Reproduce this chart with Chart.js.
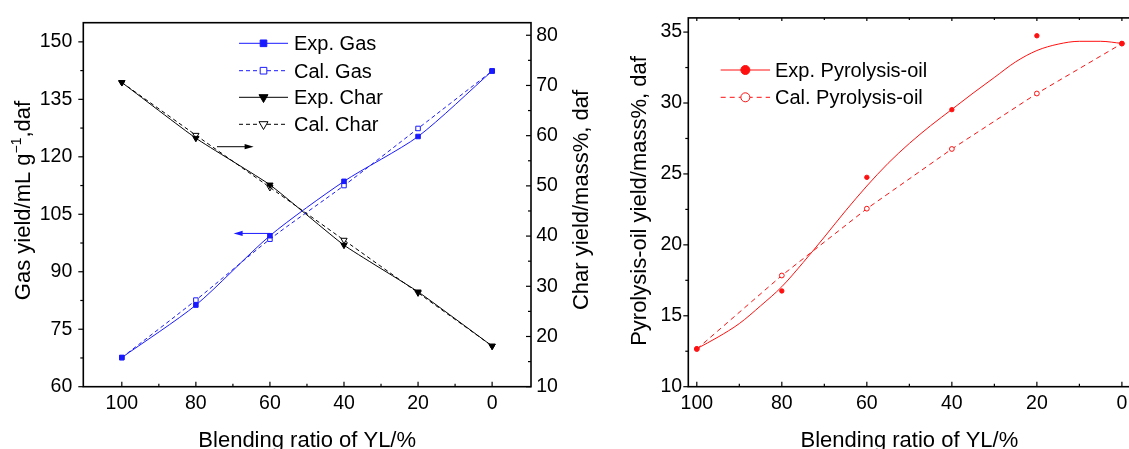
<!DOCTYPE html>
<html>
<head>
<meta charset="utf-8">
<script src="https://cdn.jsdelivr.net/npm/chart.js@4.4.1/dist/chart.umd.min.js"></script>
<style>
  html, body { margin: 0; padding: 0; background: #fff; overflow: hidden; width: 1129px; height: 449px; }
  canvas { position: absolute; top: 0; }
  #gasChar { left: 0; width: 600px; height: 449px; }
  #oil { left: 600px; width: 540px; height: 449px; }
</style>
</head>
<body>
<canvas id="gasChar" width="600" height="449"></canvas>
<canvas id="oil" width="540" height="449"></canvas>
<script>
// Blending ratio of YL (%) for every measured sample
const BLEND = [100, 80, 60, 40, 20, 0];

// Gas yield, mL/g daf
const GAS_EXP = [67.6, 81.3, 99.4, 113.6, 125.3, 142.4];
const GAS_CAL = [67.6, 82.6, 98.5, 112.5, 127.4, 142.4];

// Char yield, mass% daf
const CHAR_EXP = [70.6, 59.5, 50.2, 38.2, 28.9, 18.1];
const CHAR_CAL = [70.6, 60.1, 49.7, 39.2, 28.7, 18.1];

// Pyrolysis-oil yield, mass% daf
const OIL_EXP = [12.68, 16.75, 24.76, 29.53, 34.74, 34.19];
const OIL_CAL = [12.65, 17.84, 22.55, 26.76, 30.67, 34.19];

// Smoothed trend through the experimental oil yields
const OIL_FIT_X = [100, 95, 90, 85, 80, 75, 70, 65, 60, 55, 50, 45, 40, 35, 30, 25, 20, 15, 10, 5, 0];
const OIL_FIT_Y = [12.68, 13.5, 14.45, 15.7, 17.05, 18.75, 20.55, 22.4, 24.15, 25.75, 27.15, 28.4, 29.55, 30.7, 31.8, 32.9, 33.7, 34.15, 34.35, 34.35, 34.2];

// Axis ticks
const X_MAJOR = [0, 20, 40, 60, 80, 100];
const X_MINOR = [10, 30, 50, 70, 90];
const GAS_MAJOR = [60, 75, 90, 105, 120, 135, 150];
const GAS_MINOR = [67.5, 82.5, 97.5, 112.5, 127.5, 142.5];
const CHAR_MAJOR = [10, 20, 30, 40, 50, 60, 70, 80];
const CHAR_MINOR = [15, 25, 35, 45, 55, 65, 75];
const OIL_MAJOR = [10, 15, 20, 25, 30, 35];
const OIL_MINOR = [12.5, 17.5, 22.5, 27.5, 32.5];

const FONT = '"Liberation Sans", Arial, Helvetica, sans-serif';
const TICK_SIZE = 19.5;
const BLUE = '#1a1aff';
const RED = '#ff1010';
const BLACK = '#000000';

Chart.defaults.font.family = FONT;
Chart.defaults.color = '#000';

const pts = (xs, ys) => xs.map((x, i) => ({ x, y: ys[i] }));
const setTicks = vals => scale => { scale.ticks = vals.map(v => ({ value: v })); };

// Frame, inward/outward tick marks, rich-text axis titles, legend and arrows
function makeDecor(cfg) {
  return {
    id: 'decor',
    afterDraw(chart) {
      const ctx = chart.ctx, a = chart.chartArea;
      ctx.save();
      ctx.setLineDash([]);

      // tick marks
      cfg.ticks.forEach(t => {
        const s = chart.scales[t.scale];
        ctx.strokeStyle = '#000';
        ctx.lineWidth = 1.2;
        const mark = (vals, len) => vals.forEach(v => {
          const p = s.getPixelForValue(v);
          ctx.beginPath();
          if (t.edge === 'bottom') {
            ctx.moveTo(p, a.bottom); ctx.lineTo(p, a.bottom + (t.dir === 'in' ? -len : len));
          } else if (t.edge === 'top') {
            ctx.moveTo(p, a.top); ctx.lineTo(p, a.top + (t.dir === 'in' ? len : -len));
          } else if (t.edge === 'left') {
            ctx.moveTo(a.left, p); ctx.lineTo(a.left + (t.dir === 'in' ? len : -len), p);
          } else {
            ctx.moveTo(a.right, p); ctx.lineTo(a.right + (t.dir === 'in' ? -len : len), p);
          }
          ctx.stroke();
        });
        mark(t.major, t.len);
        mark(t.minor || [], t.minorLen);
      });

      // plot frame
      ctx.strokeStyle = '#000';
      ctx.lineWidth = 1.6;
      ctx.strokeRect(a.left, a.top, a.right - a.left, a.bottom - a.top);

      // arrows pointing to the axis a series belongs to
      (cfg.arrows || []).forEach(ar => {
        const xs = chart.scales.x, ys = chart.scales[ar.yAxis];
        const x0 = xs.getPixelForValue(ar.from), x1 = xs.getPixelForValue(ar.to), y = ys.getPixelForValue(ar.y);
        const dir = Math.sign(x1 - x0);
        ctx.strokeStyle = ar.color; ctx.fillStyle = ar.color; ctx.lineWidth = 1;
        ctx.beginPath(); ctx.moveTo(x0, y); ctx.lineTo(x1 - dir * 6, y); ctx.stroke();
        ctx.beginPath(); ctx.moveTo(x1, y); ctx.lineTo(x1 - dir * 9, y - 2.6); ctx.lineTo(x1 - dir * 9, y + 2.6);
        ctx.closePath(); ctx.fill();
      });

      // legend
      const L = cfg.legend;
      L.rows.forEach(r => {
        const dl = chart.data.datasets[r.line], dm = chart.data.datasets[r.marker];
        ctx.save();
        ctx.strokeStyle = dl.borderColor; ctx.lineWidth = dl.borderWidth || 1;
        ctx.setLineDash(dl.borderDash || []);
        ctx.beginPath(); ctx.moveTo(L.x0, r.y); ctx.lineTo(L.x1, r.y); ctx.stroke();
        ctx.restore();
        ctx.fillStyle = dm.pointBackgroundColor;
        ctx.strokeStyle = dm.pointBorderColor || dm.borderColor;
        ctx.lineWidth = 1;
        Chart.helpers.drawPoint(ctx, {
          pointStyle: dm.pointStyle, rotation: dm.pointRotation || 0, radius: r.r, borderWidth: 1
        }, (L.x0 + L.x1) / 2, r.y);
        ctx.fillStyle = '#000';
        ctx.font = L.size + 'px ' + FONT;
        ctx.textAlign = 'left'; ctx.textBaseline = 'alphabetic';
        ctx.fillText(dm.label, L.tx, r.y + 0.358 * L.size);
      });

      // axis titles (with superscripts where needed)
      cfg.titles.forEach(tt => {
        const size = tt.size, supSize = Math.round(size * 0.64);
        const fontOf = p => (p.sup ? supSize : size) + 'px ' + FONT;
        let total = 0;
        tt.parts.forEach(p => { ctx.font = fontOf(p); total += ctx.measureText(p.t).width; });
        ctx.save();
        ctx.translate(tt.x, tt.y);
        if (tt.rotate) ctx.rotate(tt.rotate * Math.PI / 180);
        ctx.fillStyle = '#000'; ctx.textAlign = 'left'; ctx.textBaseline = 'alphabetic';
        let cx = -total / 2;
        tt.parts.forEach(p => {
          ctx.font = fontOf(p);
          ctx.fillText(p.t, cx, p.sup ? -size * 0.4 : 0);
          cx += ctx.measureText(p.t).width;
        });
        ctx.restore();
      });

      ctx.restore();
    }
  };
}

const baseAxis = (min, max, ticks, padding) => ({
  type: 'linear', min, max,
  afterBuildTicks: setTicks(ticks),
  grid: { display: false, drawTicks: false },
  border: { display: false },
  ticks: { font: { size: TICK_SIZE }, padding, autoSkip: false, maxRotation: 0, color: '#000' }
});

// ---- Gas and char yields ----
const gasX = Object.assign(baseAxis(-10.5, 110.4, X_MAJOR, 5.5), { reverse: true, afterFit: s => { s.height = 62.3; } });
const gasY = Object.assign(baseAxis(60, 155, GAS_MAJOR, 11), { position: 'left', afterFit: s => { s.width = 83.3; } });
const charY = Object.assign(baseAxis(10, 82.5, CHAR_MAJOR, 5.2), { position: 'right', afterFit: s => { s.width = 69; } });

new Chart(document.getElementById('gasChar'), {
  type: 'line',
  data: {
    datasets: [
      { label: 'Exp. Gas', data: pts(BLEND, GAS_EXP), yAxisID: 'yGas', borderColor: BLUE, borderWidth: 1,
        pointStyle: 'rect', pointRadius: 3.2, pointBorderWidth: 1, pointBorderColor: BLUE, pointBackgroundColor: BLUE,
        tension: 0.25 },
      { label: 'Cal. Gas', data: pts(BLEND, GAS_CAL), yAxisID: 'yGas', borderColor: BLUE, borderWidth: 1, borderDash: [4, 3],
        pointStyle: 'rect', pointRadius: 3.2, pointBorderWidth: 1, pointBorderColor: BLUE, pointBackgroundColor: '#fff',
        tension: 0.25 },
      { label: 'Exp. Char', data: pts(BLEND, CHAR_EXP), yAxisID: 'yChar', borderColor: BLACK, borderWidth: 1,
        pointStyle: 'triangle', pointRotation: 180, pointRadius: 3.6, pointBorderWidth: 1, pointBorderColor: BLACK,
        pointBackgroundColor: BLACK, tension: 0.15 },
      { label: 'Cal. Char', data: pts(BLEND, CHAR_CAL), yAxisID: 'yChar', borderColor: BLACK, borderWidth: 1, borderDash: [4, 3],
        pointStyle: 'triangle', pointRotation: 180, pointRadius: 3.6, pointBorderWidth: 1, pointBorderColor: BLACK,
        pointBackgroundColor: '#fff', tension: 0.15 }
    ]
  },
  options: {
    responsive: false, animation: false, devicePixelRatio: 1,
    layout: { padding: { top: 14.3, left: 0, right: 0, bottom: 0 } },
    plugins: { legend: { display: false }, tooltip: { enabled: false } },
    scales: { x: gasX, yGas: gasY, yChar: charY }
  },
  plugins: [makeDecor({
    ticks: [
      { scale: 'x', edge: 'bottom', dir: 'in', major: X_MAJOR, minor: X_MINOR, len: 5, minorLen: 3 },
      { scale: 'yGas', edge: 'left', dir: 'out', major: GAS_MAJOR, minor: GAS_MINOR, len: 5, minorLen: 3 },
      { scale: 'yChar', edge: 'right', dir: 'in', major: CHAR_MAJOR, minor: CHAR_MINOR, len: 5, minorLen: 3 }
    ],
    arrows: [
      { yAxis: 'yChar', from: 74.3, to: 64.4, y: 57.8, color: BLACK },
      { yAxis: 'yGas', from: 60, to: 69.8, y: 100.0, color: BLUE }
    ],
    legend: {
      x0: 239, x1: 288, tx: 294, size: 20,
      rows: [
        { line: 0, marker: 0, y: 43.3, r: 4.7 },
        { line: 1, marker: 1, y: 70.7, r: 4.7 },
        { line: 2, marker: 2, y: 97.3, r: 5.2 },
        { line: 3, marker: 3, y: 124.3, r: 5.2 }
      ]
    },
    titles: [
      { parts: [{ t: 'Blending ratio of YL/%' }], x: 307.2, y: 446.5, size: 22 },
      { parts: [{ t: 'Gas yield/mL g' }, { t: '\u22121', sup: true }, { t: ',daf' }], x: 29.5, y: 200.5, rotate: -90, size: 22 },
      { parts: [{ t: 'Char yield/mass%, daf' }], x: 587.5, y: 200, rotate: -90, size: 22 }
    ]
  })]
});

// ---- Pyrolysis-oil yield ----
const oilX = Object.assign(baseAxis(-2, 102, X_MAJOR, 5.5), { reverse: true, afterFit: s => { s.height = 62.3; } });
const oilY = Object.assign(baseAxis(10, 36, OIL_MAJOR, 6.2), { position: 'left', afterFit: s => { s.width = 88.3; } });

new Chart(document.getElementById('oil'), {
  type: 'line',
  data: {
    datasets: [
      { label: 'Exp. Pyrolysis-oil trend', data: pts(OIL_FIT_X, OIL_FIT_Y), borderColor: RED, borderWidth: 1,
        pointRadius: 0, cubicInterpolationMode: 'monotone' },
      { label: 'Exp. Pyrolysis-oil', data: pts(BLEND, OIL_EXP), showLine: false, borderColor: RED,
        pointStyle: 'circle', pointRadius: 2.2, pointBorderWidth: 1, pointBorderColor: RED, pointBackgroundColor: RED },
      { label: 'Cal. Pyrolysis-oil', data: pts(BLEND, OIL_CAL), borderColor: RED, borderWidth: 1, borderDash: [5, 4],
        pointStyle: 'circle', pointRadius: 2.4, pointBorderWidth: 1, pointBorderColor: RED, pointBackgroundColor: '#fff',
        tension: 0 }
    ]
  },
  options: {
    responsive: false, animation: false, devicePixelRatio: 1,
    layout: { padding: { top: 14, left: 0, right: 9.6, bottom: 0 } },
    plugins: { legend: { display: false }, tooltip: { enabled: false } },
    scales: { x: oilX, y: oilY }
  },
  plugins: [makeDecor({
    ticks: [
      { scale: 'x', edge: 'bottom', dir: 'in', major: X_MAJOR, minor: X_MINOR, len: 5, minorLen: 3 },
      { scale: 'x', edge: 'top', dir: 'in', major: X_MAJOR, minor: X_MINOR, len: 3, minorLen: 2 },
      { scale: 'y', edge: 'left', dir: 'out', major: OIL_MAJOR, minor: OIL_MINOR, len: 5, minorLen: 3 }
    ],
    legend: {
      x0: 120.7, x1: 170, tx: 175, size: 20,
      rows: [
        { line: 0, marker: 1, y: 70, r: 4.5 },
        { line: 2, marker: 2, y: 97.3, r: 4.5 }
      ]
    },
    titles: [
      { parts: [{ t: 'Blending ratio of YL/%' }], x: 309.4, y: 446.5, size: 22 },
      { parts: [{ t: 'Pyrolysis-oil yield/mass%, daf' }], x: 46, y: 201, rotate: -90, size: 22 }
    ]
  })]
});
</script>
</body>
</html>
